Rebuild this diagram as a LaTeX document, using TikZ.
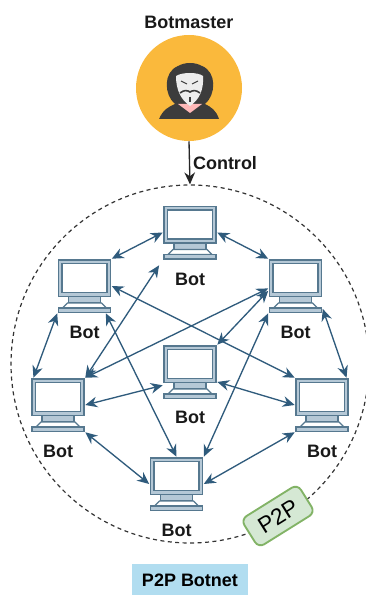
\documentclass[tikz,border=0pt]{standalone}
\usepackage{fontspec}
\setmainfont{Liberation Sans}
\usetikzlibrary{arrows.meta,shapes.geometric}

\definecolor{linkblue}{HTML}{2F5B7C}
\definecolor{pcline}{HTML}{56788F}
\definecolor{pcfill}{HTML}{B5C8D6}
\definecolor{bossorange}{HTML}{FAB93C}
\definecolor{hooddark}{HTML}{3C3C3C}
\definecolor{tagfill}{HTML}{D5E8D4}
\definecolor{tagline}{HTML}{82B366}
\definecolor{titlefill}{HTML}{B1DDF0}

\tikzset{
    botbox/.style={rectangle, minimum width=40.5pt, minimum height=40.5pt, inner sep=0pt},
    botlabel/.style={font=\fontsize{13.5}{15}\selectfont\bfseries, text=black!90},
    link/.style={{Stealth[length=9pt,width=8pt]}-{Stealth[length=9pt,width=8pt]}, linkblue, line width=1pt},
    pics/botpc/.style={code={
        % Screen
        \draw[pcline, fill=pcfill, line width=1.2pt] (-26,-26) rectangle (26,10.5);
        \draw[pcline, fill=white, line width=1pt] (-22.5,-22.5) rectangle (22.5,6.5);
        % Stand
        \draw[pcline, fill=pcfill, line width=1pt] (-16,10.5) rectangle (16,17);
        \draw[pcline, fill=white, line width=1pt] (-17,17) -- (17,17) -- (22,22) -- (-22,22) -- cycle;
        \draw[pcline, fill=pcfill, line width=1.2pt] (-26,22) rectangle (26,26.5);
    }}
}

\begin{document}
\begin{tikzpicture}[x=0.75pt, y=-0.75pt]
    \useasboundingbox (0,0) rectangle (365,595);

    % Botnet ring
    \node[circle, draw, black!80, line width=0.9pt, dash pattern=on 3pt off 2.6pt, minimum size=268.5pt, inner sep=0pt] (ring) at (190,364) {};

    % Botmaster
    \node[circle, fill=bossorange, minimum size=79.5pt, inner sep=0pt] (boss) at (189,88) {};
    \node[botlabel] (bosslabel) at (189,22) {Botmaster};
    \fill[hooddark] (159,119) .. controls (163,110) and (168,107) .. (175,104)
        .. controls (164,95) and (163,72) .. (178,66)
        .. controls (185,62) and (195,62) .. (202,66)
        .. controls (217,72) and (216,95) .. (205,104)
        .. controls (211,107) and (216,110) .. (219,119) -- cycle;
    \fill[pink!80!red!70] (178,104) -- (202,104) -- (190,113) -- cycle;
    \fill[white!93!black] (176,76) .. controls (182,72) and (198,72) .. (203,76)
        .. controls (204,90) and (199,100) .. (190,106)
        .. controls (181,100) and (176,90) .. (176,76) -- cycle;
    \draw[hooddark, line width=0.8pt] (181,81) -- (187,84) (198,81) -- (192,84);
    \draw[hooddark, line width=1.2pt] (180,93) .. controls (184,90) and (187,90) .. (190,92)
        .. controls (193,90) and (196,90) .. (200,93);
    \draw[hooddark, line width=0.8pt] (190,97) -- (190,102);

    \draw[-{Stealth[length=9pt,width=8pt]}, black!85, line width=1pt] (boss.south) -- (ring.north);
    \node[botlabel] (controllabel) at (225,163) {Control};

    % Bots
    \foreach \name/\px/\py/\ly in {top/190/232.5/279, lu/84.5/286/332, ru/295.5/286/332, mid/190/372/417,
        ll/58/405/451, rl/322/405/451, low/176.5/484/530}{
        \node[botbox] (\name) at (\px,\py) {};
        \pic at (\name) {botpc};
        \node[botlabel] (\name label) at (\px,\ly) {Bot};
    }

    % Links
    \draw[link] (top.west) -- (lu.north east);
    \draw[link] (top.east) -- (ru.north west);
    \draw[link] (lu.south west) -- (ll.132);
    \draw[link] (ru.-40) -- (rl.48);
    \draw[link, shorten <=5pt] (top.south west) -- (ll.north east);
    \draw[link] (lu.-52) -- (low.north);
    \draw[link] (lu.east) -- (rl.north west);
    \draw[link] (ru.185) -- (ll.north east);
    \draw[link] (ru.190) -- (mid.north east);
    \draw[link] (ru.south west) -- (low.north east);
    \draw[link] (ll.south east) -- (low.west);
    \draw[link] (rl.south west) -- (low.east);
    \draw[link] (ll.east) -- (mid.206);
    \draw[link] (rl.west) -- (mid.-20);

    % Tags
    \node[draw=tagline, fill=tagfill, line width=1.4pt, rounded corners=5pt, minimum width=50pt, minimum height=25pt, inner sep=0pt, rotate=32, font=\fontsize{17}{19}\selectfont] (p2ptag) at (278,516) {P2P};
    \node[fill=titlefill, minimum width=87pt, minimum height=23.5pt, inner sep=0pt, font=\fontsize{13.5}{16}\selectfont\bfseries] (title) at (190,580) {P2P Botnet};
\end{tikzpicture}
\end{document}
